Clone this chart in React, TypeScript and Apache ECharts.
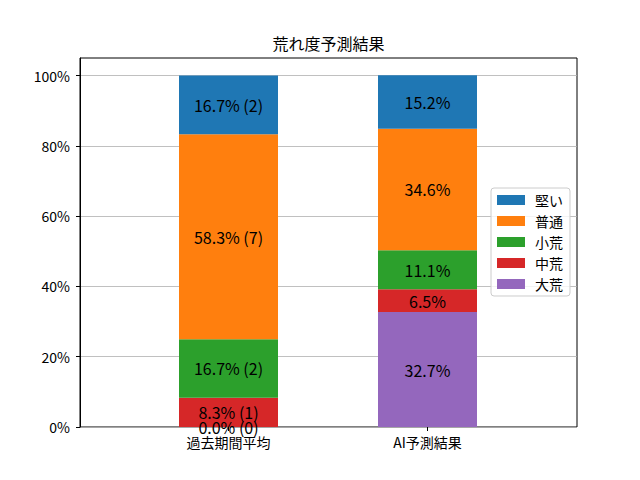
import React, { useEffect, useRef } from "react";
import * as echarts from "echarts";

const categories = ["過去期間平均", "AI予測結果"];
const stackNames = ["大荒", "中荒", "小荒", "普通", "堅い"];
const legendOrder = ["堅い", "普通", "小荒", "中荒", "大荒"];
const colors = ["#9467bd", "#d62728", "#2ca02c", "#ff7f0e", "#1f77b4"];
const pastCounts = [0, 1, 2, 7, 2];
const pastPercents = [0.0, 8.3, 16.7, 58.3, 16.7];
const aiPercents = [32.7, 6.5, 11.1, 34.6, 15.2];
const yTicks = [0, 20, 40, 60, 80, 100];

const FONT = "'Noto Sans CJK JP', 'Noto Sans', sans-serif";

export default function App() {
  const ref = useRef<HTMLDivElement>(null);
  useEffect(() => {
    if (!ref.current) return;
    const chart = echarts.init(ref.current, undefined, { renderer: "svg" });
    const series = stackNames.map((name, i) => ({
      name,
      type: "bar",
      stack: "total",
      xAxisIndex: 1,
      yAxisIndex: 1,
      barWidth: 99,
      itemStyle: { color: colors[i] },
      label: {
        show: true,
        position: "inside",
        color: "#000",
        fontSize: 16,
        fontFamily: FONT,
        formatter: (p: any) =>
          p.dataIndex === 0
            ? `${pastPercents[i].toFixed(1)}% (${pastCounts[i]})`
            : `${aiPercents[i].toFixed(1)}%`,
      },
      data: [pastPercents[i], aiPercents[i]],
    }));
    chart.setOption({
      animation: false,
      textStyle: { fontFamily: FONT },
      title: {
        text: "荒れ度予測結果",
        left: 328.5,
        top: 35,
        padding: 0,
        textAlign: "center",
        textStyle: { fontSize: 16, fontWeight: "normal", color: "#000", fontFamily: FONT },
      },
      legend: {
        data: legendOrder,
        orient: "vertical",
        left: 491,
        top: 188,
        icon: "rect",
        itemWidth: 28,
        itemHeight: 10,
        itemGap: 7,
        padding: [5, 7, 5, 6],
        borderColor: "#cccccc",
        borderWidth: 1,
        borderRadius: 3,
        backgroundColor: "rgba(255,255,255,0.8)",
        textStyle: { fontSize: 14, color: "#000", fontFamily: FONT, padding: [0, 0, 0, 5] },
      },
      grid: [
        {
          left: 80,
          right: 63,
          top: 58,
          bottom: 53,
          show: true,
          borderColor: "#000",
          borderWidth: 1,
          backgroundColor: "transparent",
        },
        { left: 129, width: 398, top: 58, bottom: 53 },
      ],
      xAxis: [
        { type: "value", gridIndex: 0, min: 0, max: 1, show: false },
        {
          type: "category",
          gridIndex: 1,
          data: categories,
          axisLine: { show: false },
          axisTick: { show: true, alignWithLabel: true, length: 4, lineStyle: { color: "#000" } },
          axisLabel: { color: "#000", fontSize: 14, margin: 8, fontFamily: FONT },
        },
      ],
      yAxis: [
        {
          type: "value",
          gridIndex: 0,
          min: 0,
          max: 105,
          interval: 20,
          axisLine: { show: true, lineStyle: { color: "#000" } },
          axisTick: { show: true, length: 4, lineStyle: { color: "#000" }, customValues: yTicks },
          axisLabel: {
            color: "#000",
            fontSize: 14,
            margin: 10,
            fontFamily: FONT,
            customValues: yTicks,
            formatter: (v: number) => `${Math.round(v)}%`,
          },
          splitLine: { show: true, lineStyle: { color: "#b0b0b0", width: 0.8 } },
        },
        { type: "value", gridIndex: 1, min: 0, max: 105, show: false },
      ],
      series,
    });
    return () => chart.dispose();
  }, []);
  return (
    <div
      ref={ref}
      style={{ position: "fixed", left: 0, top: 0, width: 640, height: 480, background: "#fff" }}
    />
  );
}
